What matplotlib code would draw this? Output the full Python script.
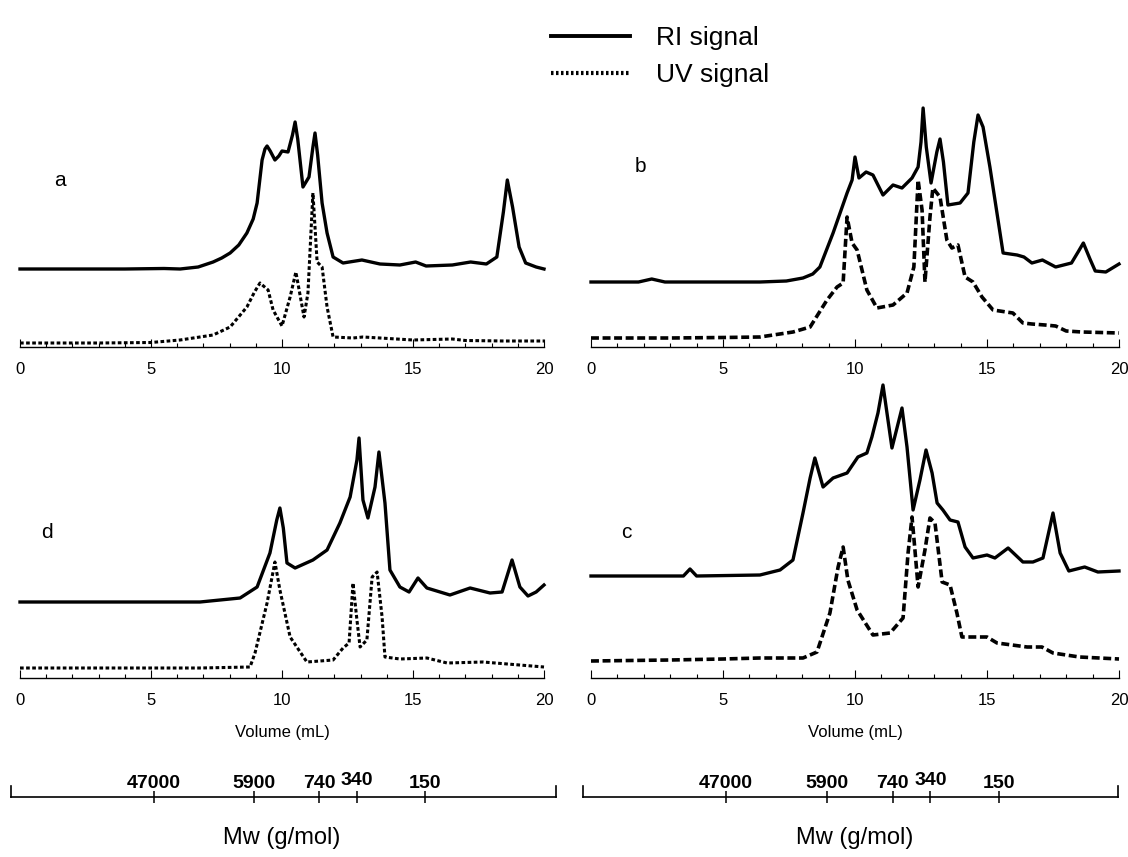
import numpy as np
import matplotlib
matplotlib.use("Agg")
import matplotlib.pyplot as plt
from matplotlib.lines import Line2D

plt.rcParams['font.family'] = ['Liberation Sans', 'DejaVu Sans']

W, H = 1128, 857

# chromatogram a  (volume in mL, signal in arbitrary units)
a_ri_vol = [0, 2, 4, 5.5, 6.11, 6.8, 7.37, 7.7, 8.02, 8.35, 8.66, 8.9, 9.05, 9.24, 9.35, 9.43, 9.55,
            9.73, 9.88, 10.0, 10.23, 10.4, 10.5, 10.6, 10.8, 11.03, 11.18, 11.26, 11.36, 11.53,
            11.72, 11.95, 12.33, 13.05, 13.74, 14.5, 15.1, 15.5, 16.5, 17.2, 17.8, 18.2, 18.45,
            18.6, 18.8, 19.05, 19.3, 19.7, 20]
a_ri_sig = [78, 78, 78, 78.5, 78, 80, 85, 89, 94, 102, 114, 128, 144, 187, 198, 201, 196,
            187, 191, 196, 195, 212, 225, 208, 160, 170, 200, 214, 192, 144,
            114, 90, 84, 87, 83, 82, 85, 81, 82, 85, 83, 90, 135,
            167, 140, 100, 84, 80, 78]
a_uv_vol = [0, 3, 5, 6.11, 7.37, 8.02, 8.66, 8.95, 9.16, 9.47, 9.66, 10.0, 10.31, 10.53, 10.84,
            10.99, 11.18, 11.26, 11.34, 11.53, 11.72, 11.95, 12.71, 13.09, 13.74, 15.0, 16.5, 17.0,
            18.5, 20]
a_uv_sig = [4, 4, 4.5, 7, 12, 20, 40, 55, 64, 57, 37, 21, 50, 75, 30,
            54, 154, 120, 85, 80, 40, 10, 9, 10, 9, 7, 8, 6.5,
            6, 6]

# chromatogram b
b_ri_vol = [0, 1.8, 2.3, 2.8, 4, 6.4, 7.4, 8.03, 8.4, 8.67, 9.17, 9.7, 9.89, 10.0, 10.15, 10.42,
            10.68, 11.06, 11.44, 11.78, 12.16, 12.39, 12.5, 12.58, 12.7, 12.88, 13.1, 13.22, 13.35,
            13.52, 13.98, 14.28, 14.5, 14.66, 14.85, 15.11, 15.61, 16.14, 16.4, 16.7, 17.1, 17.6,
            18.2, 18.45, 18.65, 18.9, 19.1, 19.5, 20]
b_ri_sig = [65, 65, 68, 65, 65, 65, 66, 69, 73, 80, 114, 154, 167, 190, 169, 175,
            172, 152, 162, 159, 169, 180, 205, 239, 200, 164, 195, 208, 185,
            142, 144, 154, 205, 232, 220, 180, 94, 92, 90, 84, 87, 80,
            84, 95, 104, 88, 76, 75, 83]
b_uv_vol = [0, 3, 5, 6.4, 7.65, 8.3, 8.94, 9.32, 9.55, 9.7, 9.89, 10.08, 10.45, 10.83, 11.44,
            11.97, 12.23, 12.39, 12.54, 12.65, 12.84, 12.95, 13.22, 13.48, 13.67, 13.9, 14.17,
            14.47, 14.81, 15.23, 15.98, 16.36, 16.7, 17.2, 17.6, 18.0, 18.6, 20]
b_uv_sig = [9, 9, 9.5, 10, 15, 20, 47, 60, 64, 130, 104, 97, 57, 39, 42,
            54, 80, 167, 137, 65, 130, 159, 150, 107, 99, 102, 70,
            65, 50, 37, 34, 24, 23, 22, 21, 16, 15, 14]

# chromatogram c
c_ri_vol = [0, 3.5, 3.75, 4.0, 6.4, 7.16, 7.65, 8.03, 8.3, 8.48, 8.79, 9.17, 9.7, 10.11, 10.45,
            10.64, 10.87, 11.06, 11.4, 11.78, 11.97, 12.2, 12.46, 12.69, 12.92, 13.11, 13.33,
            13.6, 13.9, 14.17, 14.47, 15.0, 15.3, 15.8, 16.36, 16.74, 17.12, 17.5, 17.77, 18.1,
            18.7, 19.2, 20]
c_ri_sig = [102, 102, 109, 102, 103, 108, 118, 165, 200, 220, 191, 200, 205, 221, 225,
            241, 265, 293, 230, 270, 231, 168, 198, 228, 205, 175, 168,
            158, 156, 131, 120, 123, 120, 130, 116, 116, 120, 165, 125, 107,
            111, 106, 107]
c_uv_vol = [0, 3, 5, 6.4, 8.03, 8.56, 9.05, 9.36, 9.55, 9.73, 10.08, 10.68, 11.33, 11.82, 12.01,
            12.16, 12.27, 12.39, 12.65, 12.84, 13.03, 13.3, 13.6, 13.86, 14.05, 15.0, 15.38, 16.52,
            17.08, 17.5, 18.5, 20]
c_uv_sig = [17, 18, 19, 20, 20, 26, 65, 111, 131, 98, 68, 43, 45, 60, 125,
            161, 128, 91, 128, 160, 155, 96, 93, 65, 41, 41, 35, 31,
            31, 25, 21, 19]

# chromatogram d
d_ri_vol = [0, 3, 6.87, 8.4, 9.05, 9.54, 9.8, 9.92, 10.05, 10.19, 10.5, 11.18, 11.72, 12.21,
            12.6, 12.86, 12.94, 13.09, 13.28, 13.55, 13.7, 13.93, 14.12, 14.5, 14.85, 15.19,
            15.53, 16.41, 17.18, 17.94, 18.4, 18.78, 19.08, 19.39, 19.7, 20]
d_ri_sig = [76, 76, 76, 80, 91, 125, 158, 170, 150, 115, 110, 118, 128, 155,
            181, 218, 240, 178, 160, 191, 226, 175, 108, 91, 86, 100,
            90, 83, 90, 85, 86, 118, 91, 82, 86, 93]
d_uv_vol = [0, 4, 6.87, 8.78, 8.97, 9.43, 9.73, 9.92, 10.31, 10.95, 11.95, 12.33, 12.56, 12.71,
            12.86, 12.98, 13.24, 13.44, 13.63, 13.82, 13.93, 14.5, 15.53, 16.3, 17.67, 20]
d_uv_sig = [10, 10, 10, 11, 25, 75, 116, 88, 41, 16, 18, 30, 35, 95,
            58, 31, 38, 101, 106, 61, 21, 19, 20, 15, 16, 11]

# molecular weight calibration marks (volume position, label)
mw_vol = [5.1, 8.95, 11.42, 12.85, 15.45]
mw_labels = ['47000', '5900', '740', '340', '150']


def px_rect(left, right, bottom, top):
    # pixel box -> figure fraction
    return [left / W, 1 - bottom / H, (right - left) / W, (bottom - top) / H]


def chromatogram(rect, ri_v, ri_s, uv_v, uv_s, uv_style, uv_lw):
    ax = fig.add_axes(rect)
    height_px = rect[3] * H
    ax.plot(ri_v, ri_s, color='black', lw=2.4, solid_joinstyle='round', clip_on=False)
    ax.plot(uv_v, uv_s, color='black', lw=uv_lw, linestyle=uv_style, clip_on=False)
    ax.set_xlim(0, 20)
    ax.set_ylim(0, height_px)
    for s in ['top', 'left', 'right']:
        ax.spines[s].set_visible(False)
    ax.spines['bottom'].set_linewidth(1.0)
    ax.set_yticks([])
    ax.set_xticks(range(0, 21, 5))
    ax.set_xticks(range(0, 21), minor=True)
    ax.tick_params(which='major', direction='in', length=6, width=0.8, labelsize=12, pad=11)
    ax.tick_params(which='minor', direction='in', length=3.2, width=0.8)
    ax.patch.set_alpha(0)
    return ax


def mw_axis(rect, xlim):
    ax = fig.add_axes(rect)
    ax.set_xlim(*xlim)
    ax.set_ylim(0, 1)
    ax.spines['top'].set_visible(False)
    for s in ['left', 'right', 'bottom']:
        ax.spines[s].set_linewidth(1.2)
    ax.set_yticks([])
    ax.set_xticks(mw_vol)
    ax.tick_params(axis='x', direction='inout', length=8, width=1.1, labelbottom=False)
    for v, lab in zip(mw_vol, mw_labels):
        y = 1.09 if lab == '340' else 0.82
        ax.text(v, y, lab, ha='center', va='baseline', fontsize=14, fontweight='bold')
    ax.patch.set_alpha(0)
    return ax


fig = plt.figure(figsize=(W / 100, H / 100), dpi=100)

chromatogram(px_rect(20, 544, 347, 95), a_ri_vol, a_ri_sig, a_uv_vol, a_uv_sig, (0, (1.2, 0.8)), 2.2)
chromatogram(px_rect(591, 1119, 347, 95), b_ri_vol, b_ri_sig, b_uv_vol, b_uv_sig, (0, (2.2, 1.0)), 2.6)
chromatogram(px_rect(20, 544, 678, 370), d_ri_vol, d_ri_sig, d_uv_vol, d_uv_sig, (0, (1.2, 0.8)), 2.2)
chromatogram(px_rect(591, 1119, 678, 370), c_ri_vol, c_ri_sig, c_uv_vol, c_uv_sig, (0, (2.2, 1.0)), 2.6)

for letter, x, y in [('a', 60, 180), ('b', 640, 167), ('d', 47, 533), ('c', 626, 533)]:
    fig.text(x / W, 1 - y / H, letter, ha='center', va='center', fontsize=15)

for cx in [282, 855]:
    fig.text(cx / W, 1 - 733 / H, 'Volume (mL)', ha='center', va='center', fontsize=12)
    fig.text(cx / W, 1 - 838 / H, 'Mw (g/mol)', ha='center', va='center', fontsize=17)

mw_axis(px_rect(11, 556, 797, 786), (-0.34, 20.46))
mw_axis(px_rect(583, 1118, 797, 786), (-0.3, 19.95))

handles = [Line2D([], [], color='black', lw=2.8),
           Line2D([], [], color='black', lw=3.0, linestyle=(0, (0.6, 0.6)))]
fig.legend(handles, ['RI signal', 'UV signal'], loc='upper left',
           bbox_to_anchor=(527 / W, 1 - 2 / H), frameon=False, fontsize=19,
           handlelength=3.0, handletextpad=1.0, labelspacing=0.5)

fig.savefig('out.png', dpi=100)
